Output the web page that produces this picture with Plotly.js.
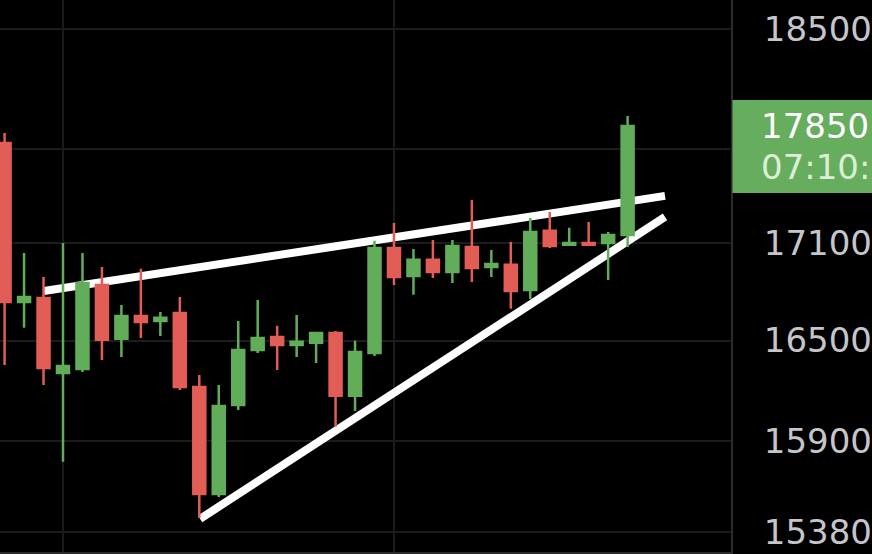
<!DOCTYPE html>
<html>
<head>
<meta charset="utf-8">
<script src="https://cdn.plot.ly/plotly-3.0.1.min.js"></script>
<style>
  html, body { margin: 0; padding: 0; background: #000; }
  #chart { width: 872px; height: 554px; }
</style>
</head>
<body>
<div id="chart"></div>
<script>
// ---- data ----
const candleIndex = [0,1,2,3,4,5,6,7,8,9,10,11,12,13,14,15,16,17,18,19,20,21,22,23,24,25,26,27,28,29,30,31,32];
const openPrices  = [17742,16735,16760,16305,16329,16840,16510,16650,16619,16668,16221,15596,16114,16443,16522,16473,16486,16546,16168,16425,17071,16896,16996,16921,17077,16952,16965,16809,17178,17090,17102,17102,17152];
const highPrices  = [17807,17039,16890,17102,17039,16952,16717,16940,16674,16766,16293,16233,16619,16748,16589,16656,16552,16558,16498,17115,17228,17064,17121,17121,17374,17058,17108,17260,17298,17197,17234,17171,17918];
const lowPrices   = [16353,16577,16233,15781,16311,16383,16401,16516,16528,16203,15459,15579,16085,16425,16323,16401,16365,15985,16079,16407,16840,16779,16884,16853,16859,16890,16693,16754,17071,17090,17090,16871,17077];
const closePrices = [16735,16766,16335,16347,16853,16504,16650,16613,16638,16221,15596,16108,16443,16516,16473,16492,16546,16168,16431,17071,16890,16996,16921,17083,16946,16971,16803,17171,17083,17102,17090,17152,17853];

// the 17700 grid line's label sits under the price tag in the reference
const tickValues = [15380, 15900, 16500, 17100, 17700, 18500];
const tickLabels = ["15380", "15900", "16500", "17100", "", "18500"];
const gridCandles = [3, 20];

const upperTrendX = [2.02, 33.92];
const upperTrendY = [16803, 17400];
const lowerTrendX = [10.04, 33.92];
const lowerTrendY = [15454, 17266];

const priceTag = "17850";
const timeTag = "07:10:";

// ---- styles ----
const GREEN = "#62ad5a";
const RED = "#e15d55";
const FONT = "'DejaVu Sans', Verdana, sans-serif";

const Y_MIN = 15267, Y_MAX = 18698;
const PLOT_H = 552;
const lastClose = closePrices[closePrices.length - 1];
const lastFrac = (Math.log10(lastClose) - Math.log10(Y_MIN)) / (Math.log10(Y_MAX) - Math.log10(Y_MIN));

const traces = [{
  type: "candlestick",
  x: candleIndex,
  open: openPrices,
  high: highPrices,
  low: lowPrices,
  close: closePrices,
  increasing: { line: { color: GREEN, width: 2.5 }, fillcolor: GREEN },
  decreasing: { line: { color: RED, width: 2.5 }, fillcolor: RED },
  whiskerwidth: 0,
  hoverinfo: "skip",
  showlegend: false
}];

const layout = {
  width: 872,
  height: 554,
  margin: { l: 0, r: 141, t: 0, b: 2, pad: 0 },
  paper_bgcolor: "#000000",
  plot_bgcolor: "#000000",
  showlegend: false,
  hovermode: false,
  boxgap: 0.384,
  boxgroupgap: 0,
  xaxis: {
    range: [-0.236, 37.31],
    tickmode: "array",
    tickvals: gridCandles,
    showticklabels: false,
    ticks: "",
    showgrid: true,
    gridcolor: "#1b1b1d",
    gridwidth: 2,
    zeroline: false,
    showline: true,
    linecolor: "#2a2a2a",
    linewidth: 2,
    rangeslider: { visible: false },
    fixedrange: true
  },
  yaxis: {
    type: "log",
    side: "right",
    range: [Math.log10(Y_MIN), Math.log10(Y_MAX)],
    tickmode: "array",
    tickvals: tickValues,
    ticktext: tickLabels,
    showgrid: true,
    gridcolor: "#1b1b1d",
    gridwidth: 2,
    zeroline: false,
    showline: true,
    linecolor: "#2c2c2c",
    linewidth: 2,
    ticks: "outside",
    ticklen: 24,
    tickcolor: "rgba(0,0,0,0)",
    tickfont: { family: FONT, size: 34, color: "#c6c6ca" },
    fixedrange: true
  },
  shapes: [
    {
      type: "line", layer: "between", xref: "x", yref: "y",
      x0: upperTrendX[0], y0: upperTrendY[0], x1: upperTrendX[1], y1: upperTrendY[1],
      line: { color: "#ffffff", width: 8 }
    },
    {
      type: "line", layer: "between", xref: "x", yref: "y",
      x0: lowerTrendX[0], y0: lowerTrendY[0], x1: lowerTrendX[1], y1: lowerTrendY[1],
      line: { color: "#ffffff", width: 8 }
    },
    {
      type: "rect", layer: "above", xref: "paper", yref: "paper",
      x0: 1.002, x1: 1.3,
      y0: lastFrac - 67 / PLOT_H, y1: lastFrac + 26 / PLOT_H,
      fillcolor: "#66ad5e", line: { width: 0 }
    }
  ],
  annotations: [
    {
      xref: "paper", yref: "paper", x: 1, y: lastFrac,
      xanchor: "left", yanchor: "middle", xshift: 28, showarrow: false,
      text: priceTag,
      font: { family: FONT, size: 34, color: "#ffffff" }
    },
    {
      xref: "paper", yref: "paper", x: 1, y: lastFrac,
      xanchor: "left", yanchor: "middle", xshift: 28, yshift: -41, showarrow: false,
      text: timeTag,
      font: { family: FONT, size: 34, color: "#dcefd6" }
    }
  ]
};

Plotly.newPlot("chart", traces, layout, { displayModeBar: false, staticPlot: true });
</script>
</body>
</html>
